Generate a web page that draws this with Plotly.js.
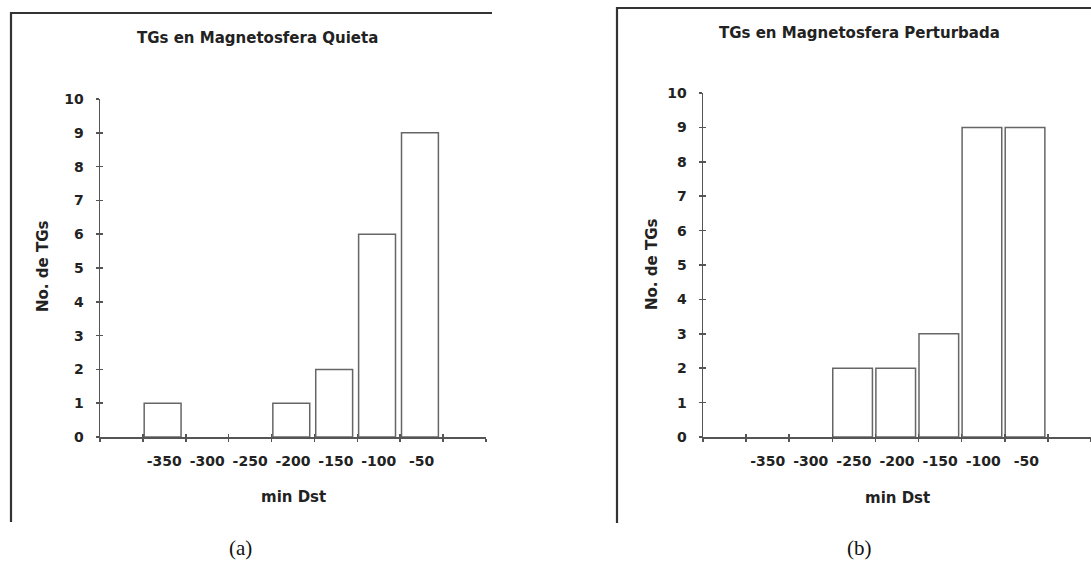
<!DOCTYPE html>
<html>
<head>
<meta charset="utf-8">
<script src="https://cdn.plot.ly/plotly-3.0.1.min.js"></script>
<style>html,body{margin:0;padding:0;background:#fff;}#chart{width:1091px;height:570px;}</style>
</head>
<body>
<div id="chart"></div>
<script>
// Data
const binLabels = ["-350", "-300", "-250", "-200", "-150", "-100", "-50"];
const quietCounts = [1, 0, 0, 1, 2, 6, 9];
const disturbedCounts = [0, 0, 2, 2, 3, 9, 9];
const yTicks = [0, 1, 2, 3, 4, 5, 6, 7, 8, 9, 10];
const quietTitle = "TGs en Magnetosfera Quieta";
const disturbedTitle = "TGs en Magnetosfera Perturbada";
const xTitle = "min Dst";
const yTitle = "No. de TGs";

const W = 1091, H = 570;
const px = p => p / W;
const py = p => 1 - p / H;

const nCat = binLabels.length + 2;          // one empty bin on each side
const binPos = binLabels.map((_, i) => i + 1);
const boundaries = [];
for (let i = 0; i <= nCat; i++) boundaries.push(i - 0.5);
const nz = arr => arr.map(v => (v === 0 ? null : v));   // zero-count bins draw no bar

const txtColor = '#222';
const lineColor = '#555';
const tickFont = {family: 'DejaVu Sans', size: 14, color: txtColor, weight: 'bold'};
const barStyle = {color: '#ffffff', line: {color: '#666', width: 1.5}};

const traces = [
  {type: 'bar', x: binPos, y: nz(quietCounts), xaxis: 'x', yaxis: 'y',
   width: 0.86, offset: -0.47, marker: barStyle, hoverinfo: 'skip', showlegend: false},
  {type: 'bar', x: binPos, y: nz(disturbedCounts), xaxis: 'x2', yaxis: 'y2',
   width: 0.92, offset: -0.49, marker: barStyle, hoverinfo: 'skip', showlegend: false}
];
[['x3', 'y'], ['x5', 'y'], ['x', 'y3'], ['x4', 'y2'], ['x6', 'y2'], ['x2', 'y4']].forEach(p => {
  traces.push({type: 'scatter', mode: 'markers', x: [], y: [], xaxis: p[0], yaxis: p[1],
               hoverinfo: 'skip', showlegend: false});
});

// main x axis: line + outward ticks at bin boundaries
function xMain(domain, anchor) {
  return {
    domain: domain, anchor: anchor, range: [-0.5, nCat - 0.5], fixedrange: true,
    tickmode: 'array', tickvals: boundaries, showticklabels: false,
    ticks: 'outside', ticklen: 3, tickcolor: lineColor, tickwidth: 1.5,
    showline: true, linecolor: lineColor, linewidth: 1.5,
    showgrid: false, zeroline: false
  };
}
// overlay: bin labels at bin centres
function xLabels(domain, over, anchor) {
  return {
    domain: domain, overlaying: over, anchor: anchor, range: [-0.5, nCat - 0.5], fixedrange: true,
    tickmode: 'array', tickvals: binPos, ticktext: binLabels, ticks: '',
    showline: false, showgrid: false, zeroline: false,
    tickfont: tickFont, ticklabelstandoff: 14
  };
}
// overlay: inward ticks at bin boundaries (crossing tick marks)
function xInside(domain, over, anchor) {
  return {
    domain: domain, overlaying: over, anchor: anchor, range: [-0.5, nCat - 0.5], fixedrange: true,
    tickmode: 'array', tickvals: boundaries, ticks: 'inside', ticklen: 3,
    tickcolor: lineColor, tickwidth: 1.5, showticklabels: false,
    showline: false, showgrid: false, zeroline: false
  };
}
function yAxis(domain, anchor) {
  return {
    domain: domain, anchor: anchor, range: [0, 10], fixedrange: true,
    tickmode: 'array', tickvals: yTicks, ticks: 'outside', ticklen: 3,
    tickcolor: lineColor, tickwidth: 1.5,
    showline: true, linecolor: lineColor, linewidth: 1.5,
    showgrid: false, zeroline: false, tickfont: tickFont, ticklabelstandoff: 9
  };
}
function yInside(domain, over, anchor) {
  return {
    domain: domain, overlaying: over, anchor: anchor, range: [0, 10], fixedrange: true,
    tickmode: 'array', tickvals: yTicks, ticks: 'inside', ticklen: 3,
    tickcolor: lineColor, tickwidth: 1.5, showticklabels: false,
    showline: false, showgrid: false, zeroline: false
  };
}

const xd1 = [px(100), px(486)], yd1 = [py(437), py(99)];
const xd2 = [px(703), 1], yd2 = [py(437), py(93)];

const titleFont = {family: 'DejaVu Sans', size: 15, color: txtColor, weight: 'bold'};
const capFont = {family: 'Liberation Serif', size: 21, color: '#111'};

function ann(text, x, y, font, angle) {
  return {text: text, x: px(x), y: py(y), xref: 'paper', yref: 'paper',
          xanchor: 'center', yanchor: 'middle', showarrow: false,
          font: font, textangle: angle || 0};
}

const frame = {color: '#333', width: 2.2};
function seg(x0, y0, x1, y1) {
  return {type: 'line', xref: 'paper', yref: 'paper',
          x0: px(x0), y0: py(y0), x1: px(x1), y1: py(y1), line: frame};
}

const layout = {
  width: W, height: H, margin: {l: 0, r: 0, t: 0, b: 0},
  paper_bgcolor: '#fff', plot_bgcolor: 'rgba(0,0,0,0)',
  showlegend: false, bargap: 0,
  xaxis: xMain(xd1, 'y'), yaxis: yAxis(yd1, 'x'),
  xaxis2: xMain(xd2, 'y2'), yaxis2: yAxis(yd2, 'x2'),
  xaxis3: xLabels(xd1, 'x', 'y'), xaxis5: xInside(xd1, 'x', 'y'),
  xaxis4: xLabels(xd2, 'x2', 'y2'), xaxis6: xInside(xd2, 'x2', 'y2'),
  yaxis3: yInside(yd1, 'y', 'x'), yaxis4: yInside(yd2, 'y2', 'x2'),
  annotations: [
    ann(quietTitle, 257, 38, titleFont),
    ann(disturbedTitle, 860, 33, titleFont),
    ann(xTitle, 293, 497, titleFont),
    ann(xTitle, 897, 498, titleFont),
    ann(yTitle, 43, 267, titleFont, -90),
    ann(yTitle, 652, 265, titleFont, -90),
    ann('(a)', 240, 548, capFont),
    ann('(b)', 860, 548, capFont)
  ],
  shapes: [
    seg(10, 13, 492, 13), seg(11, 12, 11, 522),
    seg(617, 8, 1091, 8), seg(617, 7, 617, 523)
  ]
};

Plotly.newPlot('chart', traces, layout, {staticPlot: true, displayModeBar: false});
</script>
</body>
</html>
